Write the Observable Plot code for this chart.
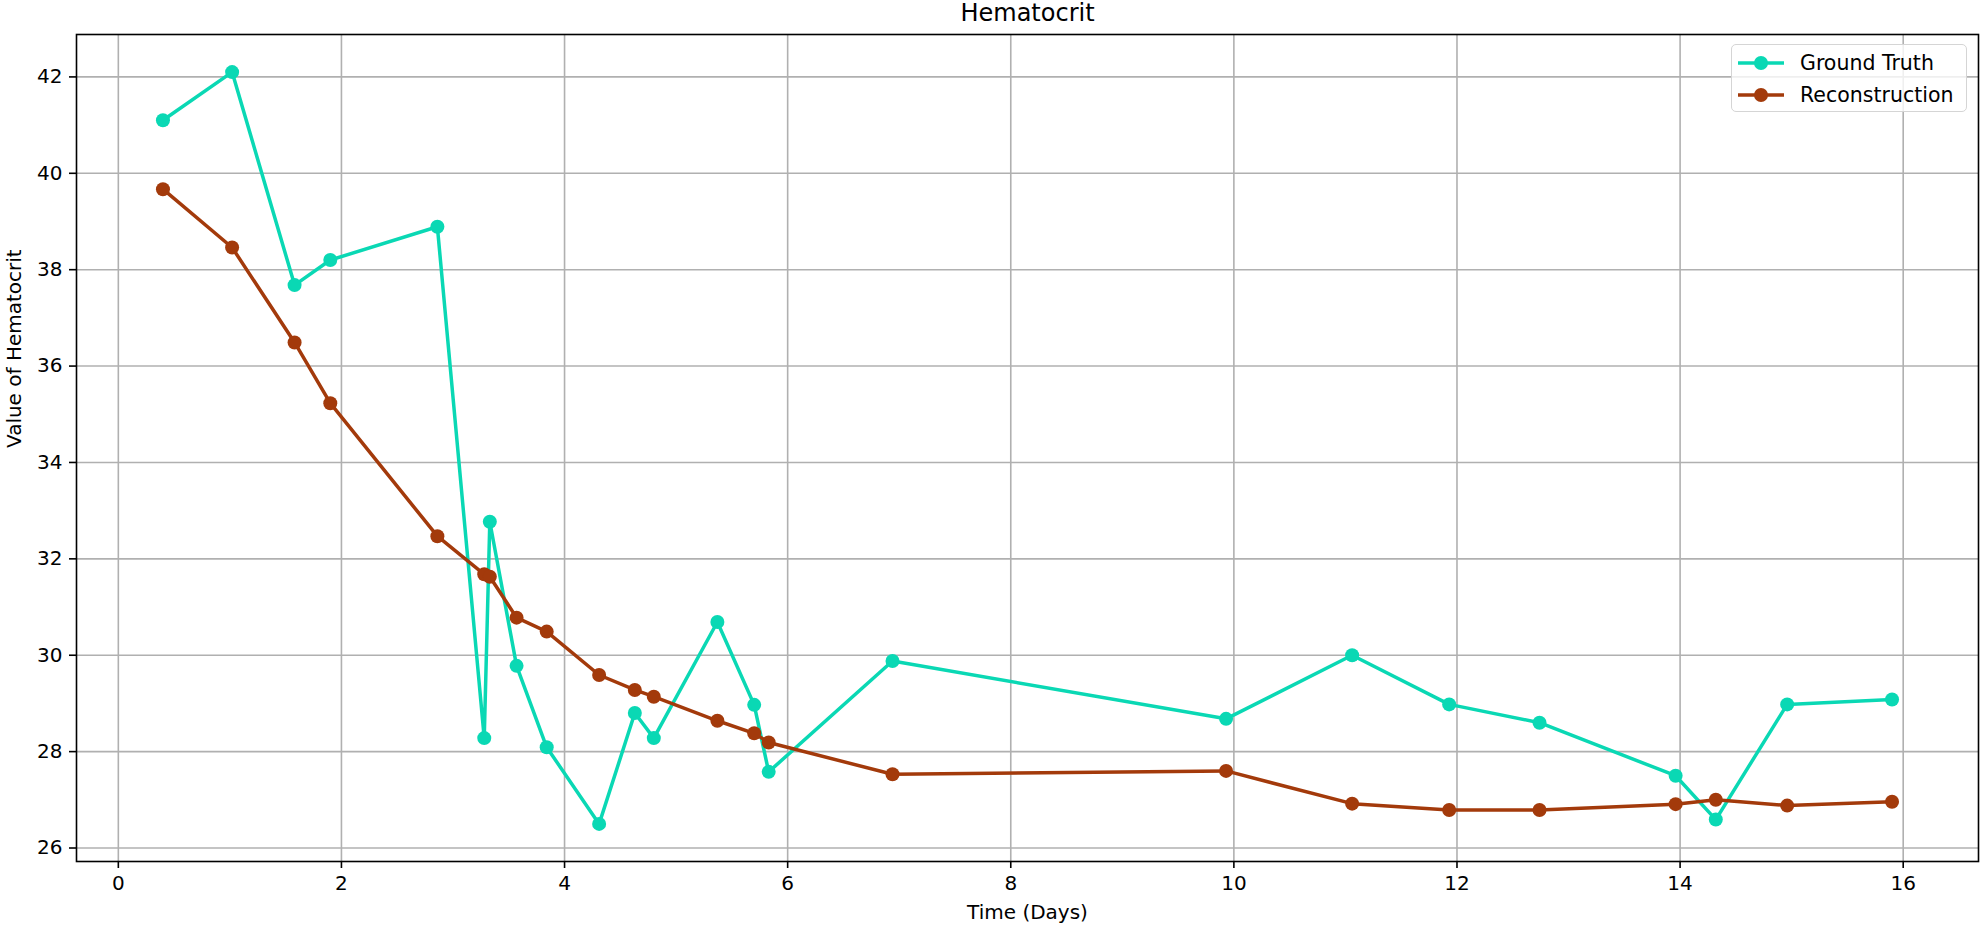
<!DOCTYPE html>
<html>
<head>
<meta charset="utf-8">
<script src="https://cdn.jsdelivr.net/npm/d3@7"></script>
<script src="https://cdn.jsdelivr.net/npm/@observablehq/plot@0.6"></script>
<style>
  html, body { margin: 0; padding: 0; background: #fff; overflow: hidden; }
  #wrap { position: relative; width: 1982px; height: 930px; font-family: "DejaVu Sans", sans-serif; }
  #legend { position: absolute; left: 1731px; top: 44px; width: 236px; height: 68px; box-sizing: border-box;
            border: 1.6px solid #d5d5d5; border-radius: 5px; background: rgba(255,255,255,0.8); }
  .row { position: absolute; left: 0; height: 30px; display: flex; align-items: center; font-size: 20.5px; color: #000; }
  .row svg { margin-left: 6px; margin-right: 16px; }
</style>
</head>
<body>
<div id="wrap"></div>
<script>
const title = "Hematocrit";
const xLabel = "Time (Days)";
const yLabel = "Value of Hematocrit";
const seriesNames = ["Ground Truth", "Reconstruction"];
const seriesColors = ["#0ad8b4", "#a33a0b"];
const xTicks = [0, 2, 4, 6, 8, 10, 12, 14, 16];
const yTicks = [26, 28, 30, 32, 34, 36, 38, 40, 42];

const days = [0.40, 1.02, 1.58, 1.90, 2.86, 3.28, 3.33, 3.57, 3.84, 4.31, 4.63, 4.80,
              5.37, 5.70, 5.83, 6.94, 9.93, 11.06, 11.93, 12.74, 13.96, 14.32, 14.96, 15.90];
const groundTruth = [41.1, 42.1, 37.68, 38.2, 38.89, 28.28, 32.77, 29.78, 28.09, 26.5, 28.8, 28.28,
                     30.69, 28.97, 27.58, 29.88, 28.68, 30.0, 28.98, 28.6, 27.5, 26.59, 28.98, 29.08];
const reconstruction = [39.67, 38.46, 36.49, 35.23, 32.47, 31.68, 31.63, 30.78, 30.49, 29.59, 29.28, 29.14,
                        28.64, 28.38, 28.19, 27.53, 27.6, 26.92, 26.79, 26.79, 26.91, 27.0, 26.88, 26.96];

const gt = days.map((d, i) => ({day: d, value: groundTruth[i]}));
const rec = days.map((d, i) => ({day: d, value: reconstruction[i]}));

const chart = Plot.plot({
  width: 1982,
  height: 930,
  marginLeft: 76,
  marginRight: 4,
  marginTop: 34,
  marginBottom: 69,
  style: {fontFamily: "DejaVu Sans, sans-serif", fontSize: "20px", color: "#000", background: "#fff"},
  x: {domain: [-0.375, 16.675], label: null},
  y: {domain: [25.72, 42.88], label: null},
  marks: [
    Plot.gridX(xTicks, {stroke: "#b0b0b0", strokeOpacity: 1, strokeWidth: 1.6}),
    Plot.gridY(yTicks, {stroke: "#b0b0b0", strokeOpacity: 1, strokeWidth: 1.6}),
    Plot.axisX(xTicks, {tickSize: 7, tickPadding: 7, strokeWidth: 1.6, fontSize: 20, label: null}),
    Plot.axisY(yTicks, {tickSize: 7, tickPadding: 7, strokeWidth: 1.6, fontSize: 20, label: null}),
    Plot.line(gt, {x: "day", y: "value", stroke: seriesColors[0], strokeWidth: 3.5}),
    Plot.dot(gt, {x: "day", y: "value", fill: seriesColors[0], r: 7}),
    Plot.line(rec, {x: "day", y: "value", stroke: seriesColors[1], strokeWidth: 3.5}),
    Plot.dot(rec, {x: "day", y: "value", fill: seriesColors[1], r: 7}),
    Plot.frame({stroke: "#000", strokeWidth: 1.6}),
    Plot.text([title], {frameAnchor: "top", text: d => d, dy: -21, fontSize: 24, lineAnchor: "middle"}),
    Plot.text([xLabel], {frameAnchor: "bottom", text: d => d, dy: 51, fontSize: 20, lineAnchor: "middle"}),
    Plot.text([yLabel], {frameAnchor: "left", text: d => d, dx: -62, rotate: -90, fontSize: 20, lineAnchor: "middle"})
  ]
});

const wrap = document.getElementById("wrap");
wrap.appendChild(chart);

const legend = document.createElement("div");
legend.id = "legend";
seriesNames.forEach((name, i) => {
  const row = document.createElement("div");
  row.className = "row";
  row.style.top = (3 + i * 32) + "px";
  row.innerHTML = `<svg width="46" height="20"><line x1="0" y1="10" x2="46" y2="10" stroke="${seriesColors[i]}" stroke-width="3.5"/><circle cx="23" cy="10" r="7" fill="${seriesColors[i]}"/></svg><span>${name}</span>`;
  legend.appendChild(row);
});
wrap.appendChild(legend);
</script>
</body>
</html>
